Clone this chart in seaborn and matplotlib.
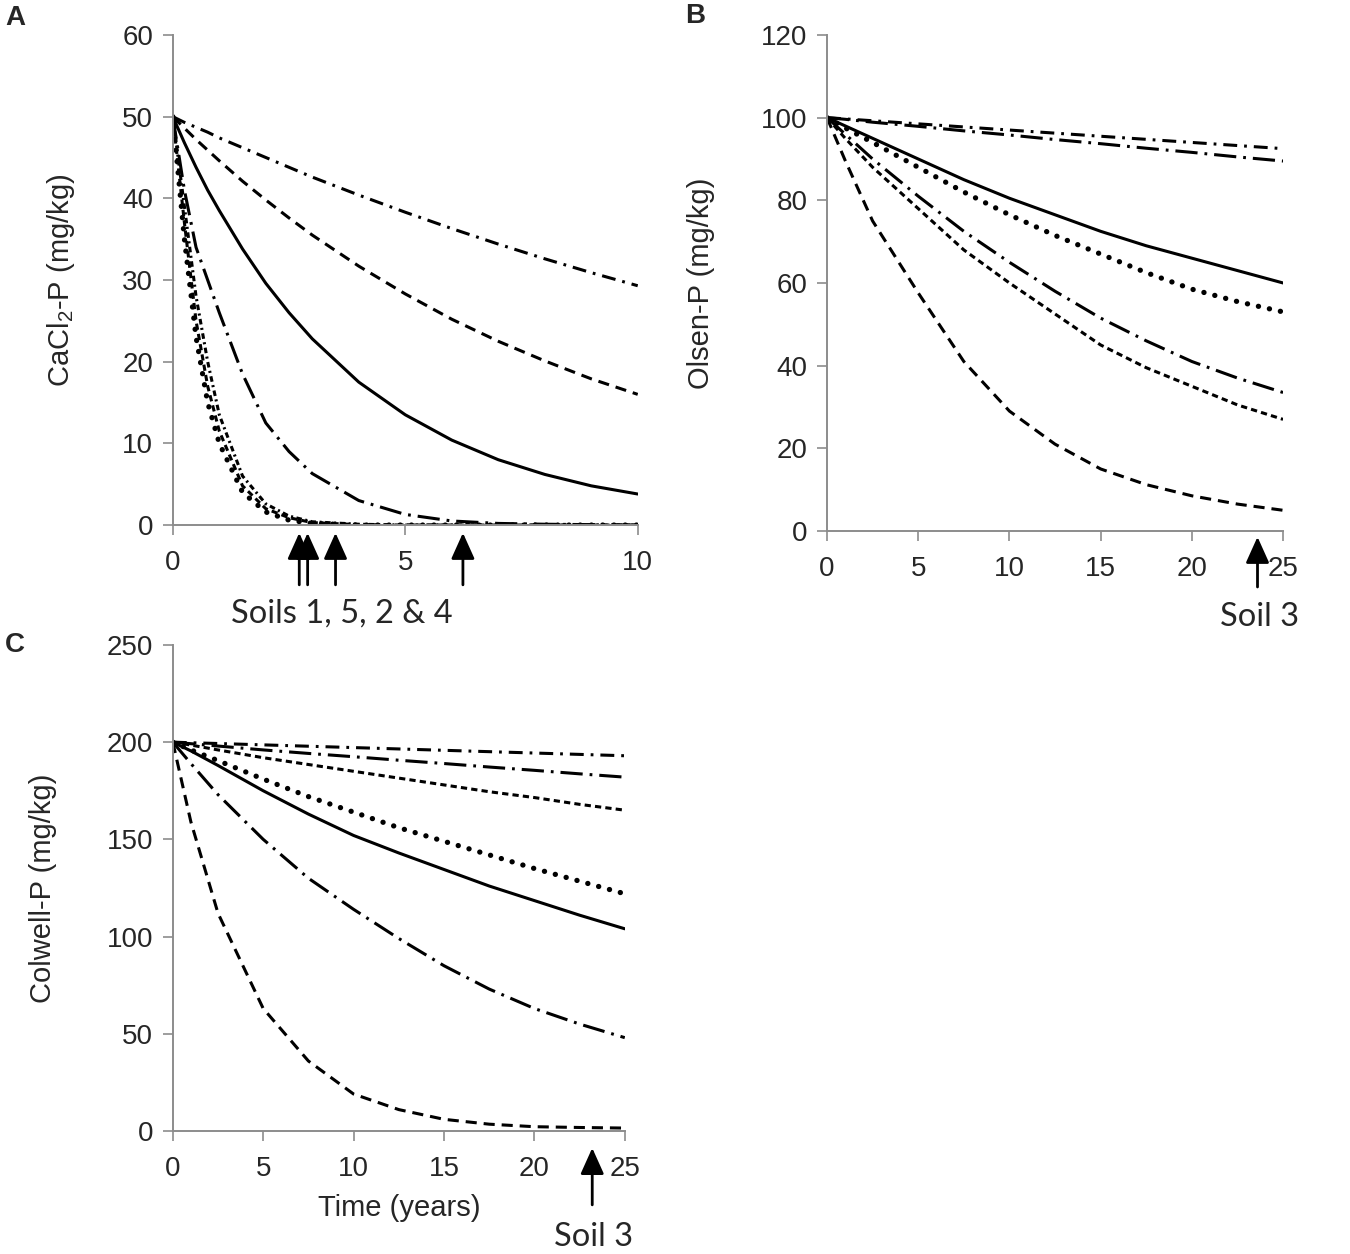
import pandas as pd
import seaborn as sns
import matplotlib.pyplot as plt

# tiempos (años)
t_a = [0, 0.25, 0.5, 0.75, 1, 1.5, 2, 2.5, 3, 4, 5, 6, 7, 8, 9, 10]
t_bc = [0, 1, 2.5, 5, 7.5, 10, 12.5, 15, 17.5, 20, 22.5, 25]

# Panel A - CaCl2-P
a_dashdot = [50, 49.3, 48.7, 48.1, 47.4, 46.2, 45.0, 43.8, 42.6, 40.4, 38.3, 36.3, 34.4, 32.6, 30.9, 29.3]
a_dash = [50, 48.6, 47.2, 45.9, 44.6, 42.1, 39.8, 37.6, 35.5, 31.7, 28.3, 25.2, 22.5, 20.1, 17.9, 16.0]
a_solid = [50, 46.8, 43.8, 41.0, 38.5, 33.8, 29.6, 26.0, 22.8, 17.5, 13.5, 10.4, 8.0, 6.2, 4.8, 3.8]
a_longdashdot = [50, 41, 34, 30, 26, 18.5, 12.5, 9, 6.3, 3, 1.3, 0.5, 0.2, 0.1, 0.05, 0]
a_dot = [50, 35, 23, 15, 10, 4, 1.6, 0.6, 0.2, 0, 0, 0, 0, 0, 0, 0]
a_shortdash = [50, 37, 25, 17, 11.5, 4.8, 2.0, 0.9, 0.3, 0.05, 0, 0, 0, 0, 0, 0]
a_dashdot2 = [50, 39, 28, 20, 13.5, 6.0, 2.6, 1.1, 0.4, 0.1, 0, 0, 0, 0, 0, 0]

# Panel B - Olsen-P
b_top1 = [100, 99.7, 99.25, 98.5, 97.75, 97.0, 96.25, 95.5, 94.75, 94.0, 93.25, 92.5]
b_top2 = [100, 99.6, 98.9, 97.9, 96.8, 95.8, 94.7, 93.7, 92.6, 91.6, 90.5, 89.5]
b_solid = [100, 98, 95, 90, 85, 80.5, 76.5, 72.5, 69, 66, 63, 60]
b_dot = [100, 97.5, 94, 88, 82, 76.5, 71.5, 67, 62.5, 58.5, 55.5, 53]
b_longdashdot = [100, 96, 90, 81, 72.5, 65, 58, 51.5, 46, 41, 37, 33.5]
b_shortdash = [100, 95, 88, 78, 68, 60, 52.5, 45, 39.5, 35, 30.5, 27]
b_dash = [100, 89.6, 75, 57.6, 41, 29, 21, 15, 11.2, 8.5, 6.5, 5]

# Panel C - Colwell-P
c_top1 = [200, 199.7, 199.3, 198.6, 197.9, 197.2, 196.5, 195.8, 195.1, 194.4, 193.7, 193]
c_top2 = [200, 199.2, 198, 196, 194.2, 192.5, 190.7, 189, 187.2, 185.5, 183.7, 182]
c_shortdash = [200, 198.5, 196, 192, 188.5, 185, 181.5, 178, 174.5, 171.5, 168, 165]
c_dot = [200, 196, 190.5, 181, 172, 164, 156, 149, 142, 135, 128.5, 122]
c_solid = [200, 195.5, 188, 175, 163, 152, 143, 134.5, 126, 118.5, 111, 104]
c_longdashdot = [200, 189, 173, 150, 130, 114, 99, 85, 73, 63, 55, 48]
c_dash = [200, 159, 112, 63, 36, 19, 11, 6, 3.5, 2.2, 1.8, 1.5]

# estilos de linea (en puntos)
estilos = {
    "solid": dict(linestyle="-", lw=2.2),
    "dot": dict(linestyle=(0, (0.1, 8)), lw=3.8, dash_capstyle="round"),
    "shortdash": dict(linestyle=(0, (4.5, 3)), lw=2.2),
    "dash": dict(linestyle=(0, (8, 5)), lw=2.2),
    "longdashdot": dict(linestyle=(0, (16, 5, 2, 5)), lw=2.2),
    "dashdot": dict(linestyle=(0, (10, 5, 2, 5)), lw=2.2),
    "dashdot2": dict(linestyle=(0, (4, 2.5, 1.5, 2.5)), lw=2.2),
}

sns.set_style("white")
plt.rcParams["font.family"] = ["Liberation Sans", "DejaVu Sans"]
plt.rcParams["mathtext.fontset"] = "custom"
plt.rcParams["mathtext.rm"] = "Liberation Sans"
plt.rcParams["lines.scale_dashes"] = False

fig = plt.figure(figsize=(13.5, 12.54), dpi=100)
axA = fig.add_axes([0.128, 0.5813, 0.3444, 0.3908])
axB = fig.add_axes([0.6126, 0.5766, 0.3378, 0.3955])
axC = fig.add_axes([0.128, 0.0981, 0.3348, 0.3876])


def dibujar(ax, t, series):
    for nombre, valores in series:
        df = pd.DataFrame({"t": t, "v": valores})
        sns.lineplot(data=df, x="t", y="v", ax=ax, color="black", **estilos[nombre])


dibujar(axA, t_a, [("dashdot", a_dashdot), ("dash", a_dash), ("solid", a_solid),
                   ("longdashdot", a_longdashdot), ("dashdot2", a_dashdot2),
                   ("shortdash", a_shortdash), ("dot", a_dot)])
dibujar(axB, t_bc, [("dashdot", b_top1), ("longdashdot", b_top2), ("solid", b_solid),
                    ("dot", b_dot), ("longdashdot", b_longdashdot),
                    ("shortdash", b_shortdash), ("dash", b_dash)])
dibujar(axC, t_bc, [("dashdot", c_top1), ("longdashdot", c_top2), ("shortdash", c_shortdash),
                    ("dot", c_dot), ("solid", c_solid), ("longdashdot", c_longdashdot),
                    ("dash", c_dash)])

config = [
    (axA, (0, 10), [0, 5, 10], (0, 60), range(0, 61, 10), r"CaCl$_\mathregular{2}$-P (mg/kg)", 33),
    (axB, (0, 25), range(0, 26, 5), (0, 120), range(0, 121, 20), "Olsen-P (mg/kg)", 33),
    (axC, (0, 25), range(0, 26, 5), (0, 250), range(0, 251, 50), "Colwell-P (mg/kg)", 36),
]
for ax, xl, xt, yl, yt, etiqueta, lp in config:
    ax.set_xlim(*xl)
    ax.set_ylim(*yl)
    ax.set_xticks(list(xt))
    ax.set_yticks(list(yt))
    ax.set_ylabel(etiqueta, fontsize=21, labelpad=lp)
    ax.set_xlabel("")
    sns.despine(ax=ax)
    for s in ["left", "bottom"]:
        ax.spines[s].set_color("#8c8c8c")
        ax.spines[s].set_linewidth(1.4)
    ax.tick_params(axis="both", which="major", labelsize=20, length=7, width=1.2,
                   color="#8c8c8c", direction="out", left=True, bottom=True)
    ax.tick_params(axis="x", pad=11)
    ax.tick_params(axis="y", pad=7)
    ax.set_facecolor("white")

axC.set_xlabel("Time (years)", fontsize=21, labelpad=9)

# flechas
flecha = dict(arrowstyle="-|>,head_length=0.8,head_width=0.36", color="black",
              lw=2.0, mutation_scale=20, shrinkA=0, shrinkB=0)
for xa in [2.72, 2.9, 3.5, 6.24]:
    axA.annotate("", xy=(xa, -0.016), xytext=(xa, -0.122),
                 xycoords=("data", "axes fraction"), textcoords=("data", "axes fraction"),
                 arrowprops=flecha, annotation_clip=False)
axB.annotate("", xy=(23.6, -0.012), xytext=(23.6, -0.113),
             xycoords=("data", "axes fraction"), textcoords=("data", "axes fraction"),
             arrowprops=flecha, annotation_clip=False)
axC.annotate("", xy=(23.2, -0.035), xytext=(23.2, -0.152),
             xycoords=("data", "axes fraction"), textcoords=("data", "axes fraction"),
             arrowprops=flecha, annotation_clip=False)

fig.text(342 / 1350, 1 - 614 / 1254, "Soils 1, 5, 2 & 4", fontsize=23.5, family="Lato",
         ha="center", va="center")
fig.text(1260 / 1350, 1 - 617 / 1254, "Soil 3", fontsize=23.5, family="Lato",
         ha="center", va="center")
fig.text(594 / 1350, 1 - 1237 / 1254, "Soil 3", fontsize=23.5, family="Lato",
         ha="center", va="center")

for letra, x, y in [("A", 15, 18), ("B", 695, 16), ("C", 15, 645)]:
    fig.text(x / 1350, 1 - y / 1254, letra, fontsize=20, fontweight="bold",
             ha="center", va="center")

plt.savefig("out.png", dpi=100, facecolor="white")
